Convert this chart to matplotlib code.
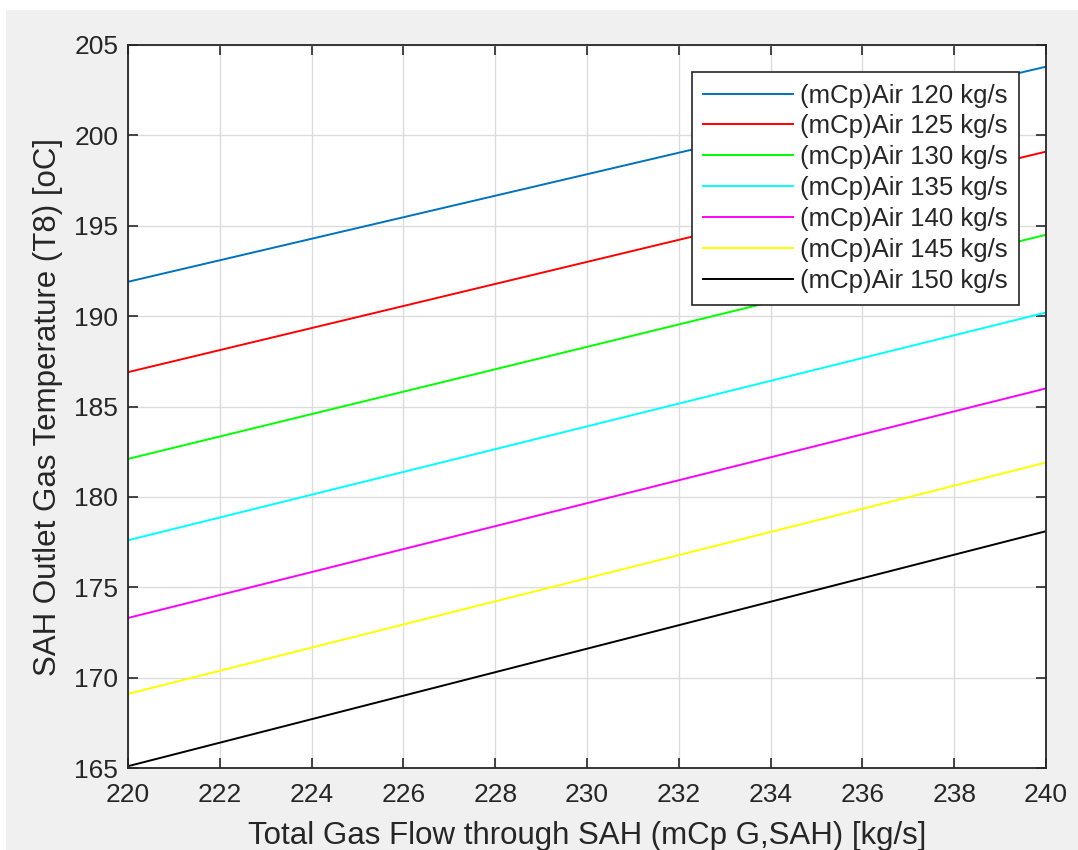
import matplotlib.pyplot as plt
from matplotlib.patches import Rectangle

plt.rcParams['font.family'] = ['Liberation Sans', 'DejaVu Sans']

# Data: each line goes from x=220 to x=240
flow = [220, 240]
air_rates = [120, 125, 130, 135, 140, 145, 150]
t8_start = [191.9, 186.9, 182.1, 177.6, 173.3, 169.1, 165.1]
t8_end = [203.8, 199.1, 194.5, 190.2, 186.0, 181.9, 178.1]
colors = ['#0072BD', '#FF0000', '#00FF00', '#00FFFF', '#FF00FF', '#FFFF00', '#000000']

fig = plt.figure(figsize=(10.78, 8.5), dpi=100, facecolor='white')
fig.patches.append(Rectangle((6 / 1078, 0), 1, 1 - 10 / 850, transform=fig.transFigure,
                             facecolor='#f0f0f0', edgecolor='none', zorder=-10))
ax = fig.add_axes([128 / 1078, 1 - 768 / 850, (1046 - 128) / 1078, (768 - 45) / 850])
ax.set_facecolor('white')

for rate, y0, y1, c in zip(air_rates, t8_start, t8_end, colors):
    ax.plot(flow, [y0, y1], color=c, lw=1.4, label='(mCp)Air %d kg/s' % rate)

ax.set_xlim(220, 240)
ax.set_ylim(165, 205)
ax.set_xticks(range(220, 241, 2))
ax.set_yticks(range(165, 206, 5))
ax.grid(True, color='#dcdcdc', lw=1)
ax.tick_params(direction='in', top=True, right=True, length=7, width=1.2,
               labelsize=19, colors='#262626')
ax.tick_params(axis='x', pad=11)
ax.tick_params(axis='y', pad=7)
for s in ax.spines.values():
    s.set_color('#262626')
    s.set_linewidth(1.3)

ax.set_xlabel('Total Gas Flow through SAH (mCp G,SAH) [kg/s]', fontsize=22.5, color='#262626', labelpad=10)
ax.set_ylabel('SAH Outlet Gas Temperature (T8) [oC]', fontsize=22.5, color='#262626', labelpad=8)

leg = ax.legend(loc='upper right', fontsize=18.5, fancybox=False, framealpha=1,
                edgecolor='#262626', borderaxespad=1.05, handlelength=3.5,
                labelspacing=0.27, borderpad=0.45, handletextpad=0.25)
leg.get_frame().set_linewidth(1.2)
for t in leg.get_texts():
    t.set_color('#262626')

fig.savefig('out.png', dpi=100, facecolor=fig.get_facecolor())
